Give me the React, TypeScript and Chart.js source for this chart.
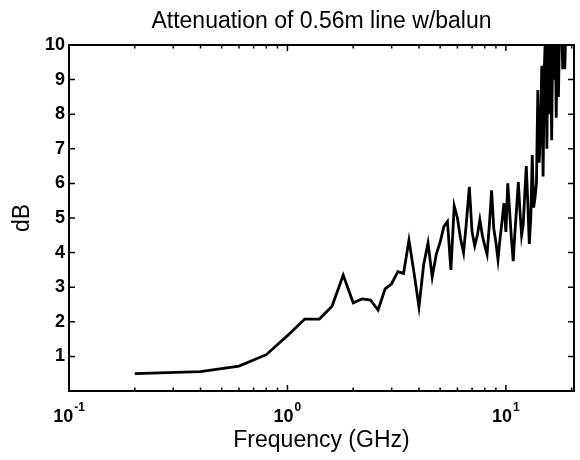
import React, { useEffect, useRef } from "react";
import { Chart, registerables } from "chart.js";

Chart.register(...registerables);

const chartTitle = "Attenuation of 0.56m line w/balun";
const xAxisTitle = "Frequency (GHz)";
const yAxisTitle = "dB";

const freqGHz = [
  0.2, 0.4, 0.6, 0.8, 1.0, 1.2, 1.4, 1.6, 1.8, 2.0,
  2.2, 2.4, 2.6, 2.8, 3.0, 3.2, 3.4, 3.6, 3.8, 4.0,
  4.2, 4.4, 4.6, 4.8, 5.0, 5.2, 5.4, 5.6, 5.8, 6.0,
  6.2, 6.4, 6.6, 6.8, 7.0, 7.2, 7.4, 7.6, 7.8, 8.0,
  8.2, 8.4, 8.6, 8.8, 9.0, 9.2, 9.4, 9.6, 9.8, 10.0,
  10.2, 10.4, 10.6, 10.8, 11.0, 11.2, 11.4, 11.6, 11.8, 12.0,
  12.2, 12.4, 12.6, 12.8, 13.0, 13.2, 13.4, 13.6, 13.8, 14.0,
  14.2, 14.4, 14.6, 14.8, 15.0, 15.2, 15.4, 15.6, 15.8, 16.0,
  16.2, 16.4, 16.6, 16.8, 17.0, 17.2, 17.4, 17.6, 17.8, 18.0,
  18.2, 18.4, 18.6, 18.8,
];

const attenuationDb = [
  0.5, 0.56, 0.72, 1.05, 1.6, 2.08, 2.08, 2.45, 3.35, 2.55,
  2.66, 2.63, 2.34, 2.95, 3.1, 3.45, 3.4, 4.36, 3.4, 2.43,
  3.64, 4.28, 3.3, 3.95, 4.3, 4.75, 4.9, 3.5, 5.35, 5.0,
  4.4, 4.0, 4.9, 5.9, 4.6, 4.2, 4.5, 4.95, 4.5, 4.2,
  3.95, 4.8, 5.8, 4.7, 4.3, 3.8, 4.4, 4.9, 5.43, 4.6,
  6.0, 5.2, 4.4, 3.75, 4.6, 5.3, 6.04, 5.2, 4.5, 4.8,
  5.7, 6.5, 5.4, 4.25, 5.0, 6.82, 5.3, 5.6, 6.0, 8.7,
  6.6, 7.5, 9.4, 6.2, 9.36, 10.5, 7.0, 10.6, 8.0, 10.3,
  7.25, 10.5, 9.0, 10.8, 7.9, 10.6, 8.5, 10.5, 11.0, 10.7,
  9.3, 10.6, 9.3, 10.4,
];

const xMajorTicks = [0.1, 1, 10];
const xMajorExponents = ["-1", "0", "1"];
const xMinorTicks = [0.2, 0.3, 0.4, 0.5, 0.6, 0.7, 0.8, 0.9, 2, 3, 4, 5, 6, 7, 8, 9, 20];
const yTicks = [0, 1, 2, 3, 4, 5, 6, 7, 8, 9, 10];

const FONT = "'Liberation Sans', Arial, Helvetica, sans-serif";

const framePlugin = {
  id: "matlabFrame",
  afterDraw(chart: any) {
    const { ctx, chartArea: a, scales } = chart;
    const xs = scales.x;
    const ys = scales.y;
    ctx.save();
    ctx.strokeStyle = "#000";
    ctx.lineWidth = 1.5;
    ctx.beginPath();
    for (const v of xMajorTicks) {
      const px = xs.getPixelForValue(v);
      ctx.moveTo(px, a.bottom);
      ctx.lineTo(px, a.bottom - 6);
      ctx.moveTo(px, a.top);
      ctx.lineTo(px, a.top + 6);
    }
    for (const v of xMinorTicks) {
      const px = xs.getPixelForValue(v);
      ctx.moveTo(px, a.bottom);
      ctx.lineTo(px, a.bottom - 3.5);
      ctx.moveTo(px, a.top);
      ctx.lineTo(px, a.top + 3.5);
    }
    for (const v of yTicks) {
      const py = ys.getPixelForValue(v);
      ctx.moveTo(a.left, py);
      ctx.lineTo(a.left + 6, py);
      ctx.moveTo(a.right, py);
      ctx.lineTo(a.right - 6, py);
    }
    ctx.stroke();
    ctx.lineWidth = 2;
    ctx.strokeRect(a.left, a.top, a.right - a.left, a.bottom - a.top);

    ctx.fillStyle = "#000";
    ctx.textBaseline = "alphabetic";
    ctx.textAlign = "left";
    const baseFont = `bold 18px ${FONT}`;
    const expFont = `bold 12px ${FONT}`;
    xMajorTicks.forEach((v, i) => {
      const px = xs.getPixelForValue(v);
      ctx.font = baseFont;
      const wb = ctx.measureText("10").width;
      ctx.font = expFont;
      const we = ctx.measureText(xMajorExponents[i]).width;
      const start = px - (wb + we + 1) / 2;
      ctx.font = baseFont;
      ctx.fillText("10", start, a.bottom + 31);
      ctx.font = expFont;
      ctx.fillText(xMajorExponents[i], start + wb + 1, a.bottom + 20);
    });
    ctx.restore();
  },
};

export default function App() {
  const canvasRef = useRef<HTMLCanvasElement | null>(null);

  useEffect(() => {
    const canvas = canvasRef.current;
    if (!canvas) return;
    const chart = new Chart(canvas, {
      type: "line",
      data: {
        datasets: [
          {
            data: freqGHz.map((f, i) => ({ x: f, y: attenuationDb[i] })),
            borderColor: "#000",
            borderWidth: 2.8,
            pointRadius: 0,
            tension: 0,
            fill: false,
          },
        ],
      },
      options: {
        animation: false,
        responsive: false,
        devicePixelRatio: 1,
        layout: { padding: { left: 0, right: 6, top: 0, bottom: 0 } },
        scales: {
          x: {
            type: "logarithmic",
            min: 0.1,
            max: 20.5,
            grid: { display: false, drawTicks: false },
            border: { display: false },
            ticks: { display: false },
            title: {
              display: true,
              text: xAxisTitle,
              color: "#000",
              font: { size: 23, family: FONT },
              padding: { top: 0, bottom: 6 },
            },
            afterFit: (s: any) => {
              s.height = 69;
            },
          },
          y: {
            type: "linear",
            min: 0,
            max: 10,
            grid: { display: false, drawTicks: false },
            border: { display: false },
            ticks: {
              stepSize: 1,
              color: "#000",
              padding: 4,
              font: { size: 18, weight: "bold", family: FONT },
              callback: (v: any) => (v === 0 ? "" : String(v)),
            },
            title: {
              display: true,
              text: yAxisTitle,
              color: "#000",
              font: { size: 23, family: FONT },
              padding: { top: 9, bottom: 0 },
            },
            afterFit: (s: any) => {
              s.width = 69;
            },
          },
        },
        plugins: {
          legend: { display: false },
          tooltip: { enabled: false },
          title: {
            display: true,
            fullSize: false,
            text: chartTitle,
            color: "#000",
            font: { size: 23, weight: "normal", family: FONT },
            padding: { top: 8, bottom: 9.4 },
          },
        },
      } as any,
      plugins: [framePlugin],
    });
    return () => chart.destroy();
  }, []);

  return (
    <div style={{ position: "fixed", left: 0, top: 0, width: 580, height: 460, background: "#fff" }}>
      <canvas ref={canvasRef} width={580} height={460} />
    </div>
  );
}
